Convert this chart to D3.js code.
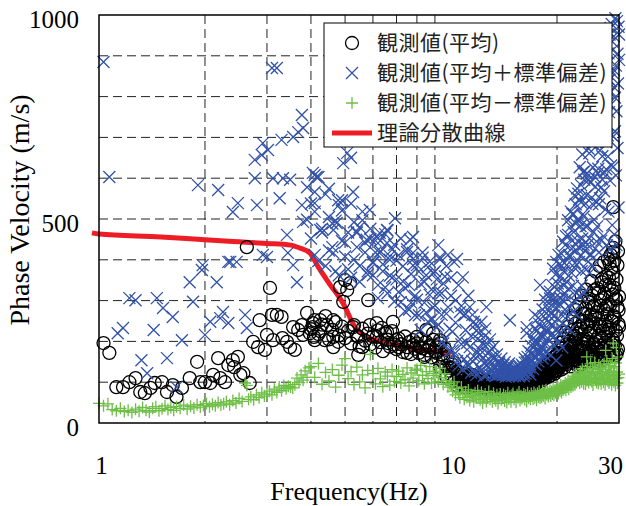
<!DOCTYPE html>
<html>
<head>
<meta charset="utf-8">
<script src="https://cdn.jsdelivr.net/npm/d3@7"></script>
<style>
body { margin: 0; background: #fff; }
</style>
</head>
<body>
<div id="container"></div>
<script>
// scattered points read one by one (freq Hz, velocity m/s)
const meanPts = [[1.03,196],[1.07,172],[1.12,88],[1.17,88],[1.22,100],[1.27,110],[1.31,76],[1.35,73],[1.40,86],[1.44,98],
  [1.51,100],[1.56,76],[1.62,93],[1.66,64],[1.72,86],[1.81,110],[1.90,150],[1.94,100],[2.00,100],[2.07,98],[2.11,118],
  [2.18,159],[2.21,110],[2.28,100],[2.33,142],[2.40,154],[2.42,137],[2.48,162],[2.52,118],[2.57,122],[2.63,431],[2.68,98],
  [2.74,199],[2.83,186],[2.86,252],[2.96,179],[3.00,216],[3.06,331],[3.10,265],[3.12,203],[3.20,265],[3.30,260],[3.32,208],
  [3.42,199],[3.49,186],[3.56,235],[3.60,179],[3.68,228],[3.77,240],[3.80,216],[3.90,270],[3.97,220],
  [4.05,245],[4.05,235],[4.10,203],[4.08,211],[4.25,252],[4.25,225],[4.38,203],[4.44,240],[4.63,252],[4.63,211],[4.63,186],
  [4.78,199],[4.84,333],[4.94,297],[5.00,350],[5.07,326],[5.17,343],[5.27,235],[5.45,211],[5.60,186],[5.45,167],[5.82,301],
  [5.88,240],[6.15,245],[6.15,211],[6.36,233],[6.58,223],[6.62,196],[6.84,248],[7.00,203],[7.10,186],[7.50,172],[7.80,191],
  [8.00,211],[8.15,186],[8.40,162],[8.50,228],[8.90,220],[9.30,203],[8.70,186],[9.10,172],[9.50,159],[9.30,137],[9.90,137],
  [9.70,113],[28.2,392],[28.9,419],[28.9,429],[28.9,529]];

const plusPts = [[1.03,885],[1.07,603],[1.13,220],[1.17,233],[1.22,306],[1.27,301],[1.32,154],[1.37,122],[1.43,228],[1.46,306],
  [1.52,282],[1.56,159],[1.62,260],[1.66,88],[1.72,203],[1.81,345],[1.85,297],[1.91,583],[1.96,375],[1.97,387],[2.00,216],
  [2.07,248],[2.16,345],[2.18,571],[2.21,257],[2.25,272],[2.33,245],[2.33,395],[2.36,395],[2.40,517],[2.46,395],[2.48,539],
  [2.60,265],[2.63,233],[2.77,600],[2.77,645],[2.81,534],[2.90,657],[2.92,686],[2.92,412],[3.00,407],[3.02,669],[3.10,870],
  [3.12,600],[3.20,870],[3.26,551],[3.30,694],[3.33,600],[3.42,461],[3.44,417],[3.49,596],[3.56,701],[3.56,387],[3.65,345],
  [3.68,713],[3.77,755],[3.77,534],[3.80,723],[3.80,493],[3.90,578],[3.90,498],
  [4.05,613],[4.10,566],[4.10,608],[4.10,539],[4.15,603],[4.25,473],[4.50,505],[4.63,473],[4.63,417],[4.73,490],[4.78,546],
  [4.90,546],[4.94,637],[5.07,662],[5.20,650],[5.27,566],[5.40,466],[5.50,480],[5.76,449],[5.88,522],[6.00,392],[6.15,456],
  [6.27,466],[6.27,417],[6.58,473],[6.58,441],[6.70,400],[6.93,502],[7.65,449],[7.80,456],[7.80,417],[9.20,436],
  [12.6,284],[14.7,252],[16.4,220],[16.4,235],[17.3,265],[17.9,338]];

const minusPts = [[1.00,48],[1.03,42],[1.06,47],[1.09,33],[1.12,30],[1.15,36],[1.18,28],[1.21,31],[1.24,26],[1.27,34],
  [1.30,29],[1.33,38],[1.36,31],[1.39,27],[1.42,36],[1.45,40],[1.48,30],[1.51,35],[1.54,42],[1.57,33],[1.60,38],[1.63,31],
  [1.66,40],[1.70,36],[1.74,44],[1.78,34],[1.82,41],[1.86,37],[1.90,45],[1.94,39],[1.98,43],[2.02,48],[2.06,40],[2.10,46],
  [2.14,42],[2.18,50],[2.22,44],[2.26,47],[2.30,52],[2.35,45],[2.40,55],[2.45,49],[2.50,60],[2.55,53],[2.60,98],[2.63,92],
  [2.66,58],[2.70,64],[2.75,57],[2.80,69],[2.85,62],[2.90,74],[2.95,66],[3.00,71],[3.05,78],[3.10,69],[3.15,83],[3.20,75],
  [3.25,88],[3.30,79],[3.35,92],[3.40,84],[3.45,90],[3.50,88],[3.55,86],[3.60,94],[3.65,110],[3.70,99],[3.75,118],[3.80,105],
  [3.85,128],[3.90,112],[3.95,135],[24.3,162],[27.5,178],[28.9,196],[29.5,185]];

// dense part, 4-30 Hz in 0.1 Hz steps
const bandFreq = [4,4.1,4.2,4.3,4.4,4.5,4.6,4.7,4.8,4.9,5,5.1,5.2,5.3,5.4,5.5,5.6,5.7,5.8,5.9,
  6,6.1,6.2,6.3,6.4,6.5,6.6,6.7,6.8,6.9,7,7.1,7.2,7.3,7.4,7.5,7.6,7.7,7.8,7.9,
  8,8.1,8.2,8.3,8.4,8.5,8.6,8.7,8.8,8.9,9,9.1,9.2,9.3,9.4,9.5,9.6,9.7,9.8,9.9,
  10,10.1,10.2,10.3,10.4,10.5,10.6,10.7,10.8,10.9,11,11.1,11.2,11.3,11.4,11.5,11.6,11.7,11.8,11.9,
  12,12.1,12.2,12.3,12.4,12.5,12.6,12.7,12.8,12.9,13,13.1,13.2,13.3,13.4,13.5,13.6,13.7,13.8,13.9,
  14,14.1,14.2,14.3,14.4,14.5,14.6,14.7,14.8,14.9,15,15.1,15.2,15.3,15.4,15.5,15.6,15.7,15.8,15.9,
  16,16.1,16.2,16.3,16.4,16.5,16.6,16.7,16.8,16.9,17,17.1,17.2,17.3,17.4,17.5,17.6,17.7,17.8,17.9,
  18,18.1,18.2,18.3,18.4,18.5,18.6,18.7,18.8,18.9,19,19.1,19.2,19.3,19.4,19.5,19.6,19.7,19.8,19.9,
  20,20.1,20.2,20.3,20.4,20.5,20.6,20.7,20.8,20.9,21,21.1,21.2,21.3,21.4,21.5,21.6,21.7,21.8,21.9,
  22,22.1,22.2,22.3,22.4,22.5,22.6,22.7,22.8,22.9,23,23.1,23.2,23.3,23.4,23.5,23.6,23.7,23.8,23.9,
  24,24.1,24.2,24.3,24.4,24.5,24.6,24.7,24.8,24.9,25,25.1,25.2,25.3,25.4,25.5,25.6,25.7,25.8,25.9,
  26,26.1,26.2,26.3,26.4,26.5,26.6,26.7,26.8,26.9,27,27.1,27.2,27.3,27.4,27.5,27.6,27.7,27.8,27.9,
  28,28.1,28.2,28.3,28.4,28.5,28.6,28.7,28.8,28.9,29,29.1,29.2,29.3,29.4,29.5,29.6,29.7,29.8,29.9,30];

const bandMean = [230,252,218,241,262,205,228,247,215,236, 208,226,195,240,214,188,231,202,219,193,
  212,185,227,198,176,219,204,187,225,192, 181,207,193,174,212,186,198,169,203,182,
  195,172,206,183,167,199,178,190,161,204, 176,188,158,195,168,149,182,140,163,128,
  135,112,148,104,126,98,118,107,95,121, 102,115,94,108,99,118,91,106,97,112,
  92,85,101,89,96,83,104,90,87,99, 88,95,82,100,90,85,97,87,93,81,
  94,86,98,83,91,96,85,101,88,93, 85,97,90,102,87,94,82,99,92,104,
  90,100,94,86,105,96,91,102,88,108, 98,93,110,101,95,115,100,106,94,113,
  109,124,105,131,116,110,127,119,138,113, 122,140,117,133,148,126,137,121,155,130,
  142,128,160,137,171,149,131,182,144,158, 136,168,151,193,145,176,214,158,139,187,
  162,228,148,197,171,243,155,206,182,140, 219,165,252,178,143,231,196,268,159,205,
  185,281,152,238,207,164,296,221,176,249, 158,265,312,193,227,171,289,148,244,205,
  330,182,256,214,161,301,237,189,345,168, 226,279,155,318,197,249,360,173,267,210,
  292,164,338,233,186,377,251,205,315,170, 262,398,189,305,226,352,172,284,421,243, 310];

// second reading of the mean, 10-30 Hz (same frequencies as bandFreq from 10 Hz)
const bandMean2 = [118,143,101,131,92,124,109,97,115,88, 99,87,110,93,104,85,98,91,107,89,
  91,100,84,97,89,103,92,86,99,94, 87,95,90,83,100,92,86,97,89,95,
  91,85,96,88,93,84,98,90,87,94, 95,88,91,86,99,93,90,96,88,101,
  99,91,96,104,93,98,88,102,95,106, 108,100,112,96,117,105,101,123,109,114,
  118,128,112,135,121,142,126,116,131,147, 136,125,152,141,131,160,138,149,127,166,
  152,171,139,186,158,143,197,165,151,205, 168,149,222,177,160,236,185,154,201,172,
  190,154,259,174,214,163,277,196,151,231, 176,291,158,237,204,312,169,248,185,152,
  268,160,327,199,243,172,305,186,263,155, 225,348,167,284,196,325,160,262,371,183,
  271,155,318,236,385,174,287,208,352,162, 306,183,395,241,162,338,219,286,177,402,
  228,356,168,289,412,195,326,248,174,368, 197,331,258,445,166,302,214,387,181,276, 236];

const bandPlus = [452,518,397,476,561,423,489,372,534,446, 408,467,356,492,431,385,518,442,364,476,
  395,447,338,421,372,463,318,409,356,437, 352,411,296,384,331,426,278,365,402,312,
  387,264,341,418,295,362,248,396,327,283, 372,236,318,401,265,342,207,385,284,231,
  312,178,395,246,152,338,205,287,131,264, 228,147,312,186,123,265,164,241,118,206,
  182,135,248,158,116,214,142,193,122,176, 151,118,187,133,116,168,125,145,119,137,
  128,118,149,119,117,138,115,126,120,131, 119,118,134,121,125,120,141,117,122,129,
  126,115,148,121,137,162,128,144,119,171, 153,132,198,164,142,226,175,151,243,186,
  172,214,158,262,193,231,176,289,208,247, 228,305,166,267,338,191,212,296,364,153,
  281,342,198,389,236,305,415,185,262,372, 318,436,235,387,262,461,329,408,228,482,
  368,447,272,512,381,298,536,423,265,497, 431,548,312,409,583,337,452,615,506,318,
  422,538,376,611,483,395,672,452,368,589, 412,684,537,385,742,498,603,428,786,541,
  482,836,623,418,758,551,868,447,702,597, 786,458,895,614,523,932,688,436,856,705,
  518,842,952,426,780,631,978,485,914,702, 865,462,798,1040,607,436,985,674,1080,528, 952];

const bandPlus2 = [538,412,603,467,385,574,431,496,362,521, 442,377,538,401,469,346,497,418,372,451,
  362,418,306,447,389,332,472,361,425,298, 398,321,452,347,274,419,338,295,386,264,
  302,371,228,405,346,271,382,314,253,367, 288,352,241,406,318,195,359,268,412,176,
  356,224,168,301,402,141,272,193,357,157, 267,196,139,284,213,152,248,127,226,173,
  221,168,128,196,147,232,119,171,138,205, 128,164,141,121,156,131,118,149,126,158,
  117,142,124,113,136,121,146,118,129,115, 123,131,116,138,119,127,114,135,121,143,
  139,121,158,131,149,125,176,136,152,189, 168,207,146,188,231,162,199,258,173,216,
  236,184,278,211,167,302,226,194,318,264, 276,322,214,289,241,378,263,306,228,395,
  327,256,412,291,358,221,386,302,445,337, 392,278,458,346,305,497,361,412,284,518,
  427,512,336,468,558,392,489,318,575,446, 562,395,627,483,541,372,658,512,437,596,
  618,482,705,559,437,742,596,661,412,768, 692,552,811,627,468,744,836,579,705,445,
  725,612,884,536,791,668,912,578,836,654, 872,702,568,938,741,816,622,962,784,653,
  906,762,841,594,968,812,706,935,858,628, 948,822,715,992,876,764,1020,905,832,971, 890];

const bandMinus = [138,112,146,95,124,103,131,88,117,142, 158,109,126,94,137,101,118,86,129,168,
  121,96,134,108,89,125,115,93,131,102, 114,127,98,119,106,135,91,123,110,129,
  132,104,141,117,96,126,109,138,98,121, 116,127,102,134,111,95,121,104,88,97,
  92,78,101,69,85,74,62,88,71,58, 76,63,81,55,70,66,52,74,61,79,
  68,57,75,49,64,71,53,62,77,58, 66,52,73,60,55,69,48,63,71,57,
  61,70,54,66,50,74,59,65,52,68, 72,58,64,51,69,62,76,55,67,60,
  63,71,57,68,53,74,61,66,58,72, 66,59,75,62,70,56,73,64,78,61,
  70,63,79,67,74,60,81,69,76,65, 73,80,66,77,71,85,68,79,74,82,
  76,88,72,84,79,93,75,86,81,91, 85,98,80,94,89,104,83,96,101,88,
  97,108,91,115,102,94,121,99,112,105, 106,118,98,126,110,101,132,113,96,122,
  111,95,127,104,139,116,99,124,108,145, 118,102,134,93,125,112,148,106,121,99,
  109,131,97,142,115,104,137,96,126,118, 123,100,145,112,94,131,108,152,117,103,
  135,98,119,141,106,127,94,158,113,124, 101,138,116,92,147,109,125,98,162,111, 120];

// theoretical dispersion curve
const theoryFreq = [0.955,1,1.5,2,2.5,3,3.5,3.72,3.97,4.2,4.5,4.93,5.34,5.77,6.58,7.65,8.5,9.42,10];
const theoryVel = [466,463,456,449,444,440,436,429,417,382,343,294,235,211,196,184,178,174,170];

const xTicks = [1, 10, 30];
const yTicks = [0, 500, 1000];
const xGrid = [2,3,4,5,6,7,8,9,20];
const yGrid = [100,200,300,400,500,600,700,800,900];
const legendLabels = ["観測値(平均)", "観測値(平均＋標準偏差)", "観測値(平均－標準偏差)", "理論分散曲線"];

const w = 626, h = 506;
const plotL = 99, plotR = 619, plotT = 15, plotB = 423;
const serif = "Liberation Serif";

const hiFreq = bandFreq.filter(f => f >= 10);
const meanData = meanPts
  .concat(bandFreq.map((f, i) => [f, bandMean[i]]))
  .concat(hiFreq.map((f, i) => [f, bandMean2[i]]));
const plusData = plusPts
  .concat(bandFreq.map((f, i) => [f, bandPlus[i]]))
  .concat(bandFreq.map((f, i) => [f, bandPlus2[i]]))
  .filter(d => d[1] <= 1000);
const minusData = minusPts.concat(bandFreq.map((f, i) => [f, bandMinus[i]]));
const theory = theoryFreq.map((f, i) => [f, theoryVel[i]]);

const xScale = d3.scaleLog().domain([1, 30]).range([plotL, plotR]);
const yScale = d3.scaleLinear().domain([0, 1000]).range([plotB, plotT]);

const svg = d3.select("#container")
  .append("svg")
  .attr("width", w)
  .attr("height", h)
  .style("display", "block")
  .style("background", "#fff");

// dashed grid
svg.append("g").selectAll("line")
  .data(yGrid)
  .enter()
  .append("line")
  .attr("x1", plotL).attr("x2", plotR)
  .attr("y1", d => yScale(d)).attr("y2", d => yScale(d))
  .attr("stroke", "#222").attr("stroke-width", 1).attr("stroke-dasharray", "9,5");

svg.append("g").selectAll("line")
  .data(xGrid)
  .enter()
  .append("line")
  .attr("x1", d => xScale(d)).attr("x2", d => xScale(d))
  .attr("y1", plotT).attr("y2", plotB)
  .attr("stroke", "#222").attr("stroke-width", 1).attr("stroke-dasharray", "9,5");

// theory line
const line = d3.line()
  .x(d => xScale(d[0]))
  .y(d => yScale(d[1]))
  .curve(d3.curveMonotoneX);

svg.append("path")
  .datum(theory)
  .attr("d", line)
  .attr("fill", "none")
  .attr("stroke", "#ee1c25")
  .attr("stroke-width", 5);

// mean circles
svg.append("g").selectAll("circle")
  .data(meanData)
  .enter()
  .append("circle")
  .attr("cx", d => xScale(d[0]))
  .attr("cy", d => yScale(d[1]))
  .attr("r", 6.5)
  .attr("fill", "none")
  .attr("stroke", "#000")
  .attr("stroke-width", 1.3);

// mean + sd crosses
svg.append("g").selectAll("path")
  .data(plusData)
  .enter()
  .append("path")
  .attr("transform", d => "translate(" + xScale(d[0]) + "," + yScale(d[1]) + ")")
  .attr("d", "M-6,-6L6,6M-6,6L6,-6")
  .attr("stroke", "#3152a8")
  .attr("stroke-width", 1.3);

// mean - sd pluses
svg.append("g").selectAll("path")
  .data(minusData)
  .enter()
  .append("path")
  .attr("transform", d => "translate(" + xScale(d[0]) + "," + yScale(d[1]) + ")")
  .attr("d", "M-6,0H6M0,-6V6")
  .attr("stroke", "#6dbf46")
  .attr("stroke-width", 1.3);

// frame
svg.append("rect")
  .attr("x", plotL).attr("y", plotT)
  .attr("width", plotR - plotL).attr("height", plotB - plotT)
  .attr("fill", "none").attr("stroke", "#000").attr("stroke-width", 1.5);

// axes
const xAxis = d3.axisBottom(xScale).tickValues(xTicks).tickSize(0).tickFormat(d3.format("d"));
const yAxis = d3.axisLeft(yScale).tickValues(yTicks).tickSize(0).tickFormat(d3.format("d"));

const gx = svg.append("g")
  .attr("transform", "translate(0," + plotB + ")")
  .call(xAxis)
  .attr("font-family", serif)
  .attr("font-size", 25);
gx.select(".domain").remove();
gx.selectAll("text")
  .attr("y", 51).attr("dy", 0)
  .attr("dx", d => d === 30 ? -9 : 2)
  .attr("fill", "#000");

const gy = svg.append("g")
  .attr("transform", "translate(" + plotL + ",0)")
  .call(yAxis)
  .attr("font-family", serif)
  .attr("font-size", 25);
gy.select(".domain").remove();
gy.selectAll("text")
  .attr("x", -20).attr("dy", 12)
  .attr("fill", "#000");

// titles
svg.append("text")
  .attr("x", 349).attr("y", 500)
  .attr("text-anchor", "middle")
  .attr("font-family", serif)
  .attr("font-size", 26)
  .text("Frequency(Hz)");

svg.append("text")
  .attr("transform", "translate(29,210) rotate(-90)")
  .attr("text-anchor", "middle")
  .attr("font-family", serif)
  .attr("font-size", 28)
  .text("Phase Velocity (m/s)");

// legend
const legend = svg.append("g");
legend.append("rect")
  .attr("x", 324).attr("y", 23)
  .attr("width", 288).attr("height", 124)
  .attr("fill", "#fff").attr("stroke", "#000").attr("stroke-width", 1);

const rowY = i => 43 + i * 30;
legend.append("circle")
  .attr("cx", 352).attr("cy", rowY(0)).attr("r", 6.5)
  .attr("fill", "none").attr("stroke", "#000").attr("stroke-width", 1.3);
legend.append("path")
  .attr("transform", "translate(352," + rowY(1) + ")")
  .attr("d", "M-6,-6L6,6M-6,6L6,-6")
  .attr("stroke", "#3152a8").attr("stroke-width", 1.3);
legend.append("path")
  .attr("transform", "translate(352," + rowY(2) + ")")
  .attr("d", "M-6,0H6M0,-6V6")
  .attr("stroke", "#6dbf46").attr("stroke-width", 1.3);
legend.append("line")
  .attr("x1", 332).attr("x2", 372)
  .attr("y1", rowY(3)).attr("y2", rowY(3))
  .attr("stroke", "#ee1c25").attr("stroke-width", 5);

legend.selectAll("text")
  .data(legendLabels)
  .enter()
  .append("text")
  .attr("x", 377)
  .attr("y", (d, i) => rowY(i) + 7)
  .attr("font-family", "Noto Sans CJK JP")
  .attr("font-size", 21)
  .attr("letter-spacing", 0.5)
  .attr("fill", "#222")
  .text(d => d);
</script>
</body>
</html>
